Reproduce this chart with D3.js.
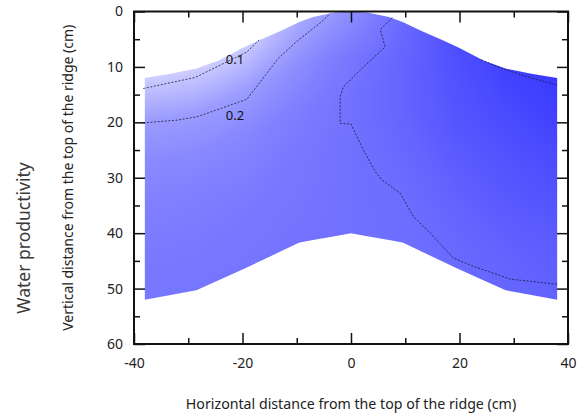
<!DOCTYPE html>
<html lang="en">
<head>
<meta charset="UTF-8"/>
<title>Water productivity</title>
<script src="https://d3js.org/d3.v7.min.js"></script>
<style>
    body { margin: 0; background: #fff; }
    text { font-family: "Noto Sans", sans-serif; }
</style>
</head>
<body>
<svg id="chart" width="582" height="418"></svg>
<script>
    // ridge outline: horizontal position (cm) and depth below top of ridge (cm)
    const surfaceX = [-38, -33, -28.5, -24.5, -20, -16.5, -13, -10, -7, -3, 0, 3, 7, 10, 13, 16.5, 20, 24.5, 28.5, 33, 38];
    const surfaceDepth = [12, 11.2, 10.3, 8.9, 6.6, 5.0, 3.5, 2.1, 1.0, 0.2, 0, 0.2, 1.0, 2.1, 3.5, 5.0, 6.6, 8.9, 10.3, 11.2, 12];
    const baseX = [-38, -28.5, -19, -9.5, 0, 9.5, 19, 28.5, 38];
    const baseDepth = [52, 50.3, 46.1, 41.7, 40, 41.7, 46.1, 50.3, 52];

    // water productivity read off the shading: one column per gridX,
    // rows go from the surface (0) to the base (1) of the ridge
    const gridX = [-38, -28, -19, -9.5, 0, 9.5, 19, 28, 38];
    const gridFrac = [0, 0.2, 0.4, 0.6, 0.8, 1];
    const productivity = [
        [0.08, 0.2, 0.245, 0.265, 0.28, 0.285],
        [0.08, 0.2, 0.245, 0.27, 0.28, 0.29],
        [0.09, 0.2, 0.25, 0.27, 0.285, 0.29],
        [0.17, 0.235, 0.27, 0.285, 0.29, 0.295],
        [0.23, 0.285, 0.3, 0.3, 0.3, 0.3],
        [0.32, 0.33, 0.33, 0.32, 0.31, 0.305],
        [0.38, 0.37, 0.36, 0.34, 0.325, 0.315],
        [0.41, 0.39, 0.37, 0.355, 0.335, 0.325],
        [0.43, 0.41, 0.385, 0.365, 0.345, 0.335]
    ];

    // contour lines [x, depth]
    const contour01 = [[-38.3, 13.9], [-28.7, 11.9], [-19.2, 7.3], [-16.8, 5.0]];
    const contour02 = [[-38.3, 20.1], [-32, 19.6], [-28.4, 19.0], [-19.2, 15.85], [-13.4, 8.45], [-10, 5.4], [-5.4, 1.84], [-3.8, 0.33]];
    const contour03 = [[7.6, 1.1], [5.4, 3.3], [6.3, 6.4], [2.3, 10], [-1.4, 13.6], [-2, 15.4], [-2, 20.2], [0, 20.3],
        [2.3, 25], [4.5, 28.9], [5.7, 30.4], [9.1, 32.8], [11.5, 37], [14.6, 40], [18.9, 44.5], [22.6, 46], [29.4, 48.3], [38, 49.2]];
    const contour04 = [[24, 8.7], [28.1, 10.4], [33, 11.9], [38, 13.3]];
    const contours = [contour01, contour02, contour03, contour04];

    const labelText = ["0.1", "0.2"];
    const labelX = [-21.4, -21.4];
    const labelDepth = [8.6, 18.7];

    const xTicks = [-40, -20, 0, 20, 40];
    const xMinor = [-30, -10, 10, 30];
    const yTicks = [0, 10, 20, 30, 40, 50, 60];
    const yMinor = [5, 15, 25, 35, 45, 55];

    const margin = {top: 11.5, right: 14, bottom: 74, left: 134},
        width = 582 - margin.left - margin.right,
        height = 418 - margin.top - margin.bottom;

    const svg = d3.select("#chart");
    const g = svg.append("g").attr("transform", `translate(${margin.left}, ${margin.top})`);

    const x = d3.scaleLinear().domain([-40, 40]).range([0, width]);
    const y = d3.scaleLinear().domain([0, 60]).range([0, height]);
    const color = d3.scaleLinear().domain([0, 0.5]).range(["#f0f0ff", "#1c1cff"]).clamp(true);

    const surface = d3.scaleLinear().domain(surfaceX).range(surfaceDepth).clamp(true);
    const base = d3.scaleLinear().domain(baseX).range(baseDepth).clamp(true);
    const rowScales = gridFrac.map((f, j) =>
        d3.scaleLinear().domain(gridX).range(productivity.map(col => col[j])).clamp(true));

    // shade the field on a canvas, then clip it to the ridge
    const canvas = document.createElement("canvas");
    canvas.width = Math.ceil(width);
    canvas.height = Math.ceil(height);
    const ctx = canvas.getContext("2d");
    const img = ctx.createImageData(canvas.width, canvas.height);
    for (let i = 0; i < canvas.width; i++) {
        const xv = x.invert(i + 0.5);
        const s = surface(xv), b = base(xv);
        const colScale = d3.scaleLinear().domain(gridFrac).range(rowScales.map(r => r(xv))).clamp(true);
        for (let k = 0; k < canvas.height; k++) {
            const f = (y.invert(k + 0.5) - s) / (b - s);
            const c = d3.rgb(color(colScale(f)));
            const p = (k * canvas.width + i) * 4;
            img.data[p] = c.r;
            img.data[p + 1] = c.g;
            img.data[p + 2] = c.b;
            img.data[p + 3] = 255;
        }
    }
    ctx.putImageData(img, 0, 0);

    const outlineX = Array.from(new Set([...surfaceX, ...baseX])).sort((a, b) => a - b);
    const ridge = d3.area()
        .x(d => x(d))
        .y0(d => y(base(d)))
        .y1(d => y(surface(d)));

    svg.append("defs").append("clipPath").attr("id", "ridgeClip")
        .append("path").attr("d", ridge(outlineX));

    g.append("image")
        .attr("href", canvas.toDataURL())
        .attr("width", canvas.width)
        .attr("height", canvas.height)
        .attr("preserveAspectRatio", "none")
        .attr("clip-path", "url(#ridgeClip)");

    // contour lines
    const line = d3.line().x(d => x(d[0])).y(d => y(d[1]));
    g.append("g")
        .selectAll("path")
        .data(contours)
        .join("path")
        .attr("d", line)
        .attr("fill", "none")
        .attr("stroke", "#1a1a3a")
        .attr("stroke-width", 0.8)
        .attr("stroke-dasharray", "2,1.6");

    g.append("g")
        .selectAll("text")
        .data(labelText)
        .join("text")
        .attr("x", (d, i) => x(labelX[i]))
        .attr("y", (d, i) => y(labelDepth[i]))
        .attr("dy", "0.35em")
        .attr("text-anchor", "middle")
        .style("font-size", "13px")
        .style("fill", "#111")
        .text(d => d);

    // axes, ticks pointing inward on all four sides
    function styleAxis(sel) {
        sel.select(".domain").remove();
        sel.selectAll("line").attr("stroke", "#111").attr("stroke-width", 1.5);
        sel.attr("font-family", "'Noto Sans', sans-serif").attr("font-size", 14);
        sel.selectAll("text").attr("fill", "#222");
    }
    const fmt = d => String(d);
    const none = () => "";

    g.append("g").attr("transform", `translate(0, ${height})`)
        .call(d3.axisBottom(x).tickValues(xTicks).tickSize(-11).tickPadding(14).tickFormat(fmt)).call(styleAxis);
    g.append("g").attr("transform", `translate(0, ${height})`)
        .call(d3.axisBottom(x).tickValues(xMinor).tickSize(-6).tickFormat(none)).call(styleAxis);
    g.append("g")
        .call(d3.axisTop(x).tickValues(xTicks).tickSize(-11).tickFormat(none)).call(styleAxis);
    g.append("g")
        .call(d3.axisTop(x).tickValues(xMinor).tickSize(-6).tickFormat(none)).call(styleAxis);

    g.append("g")
        .call(d3.axisLeft(y).tickValues(yTicks).tickSize(-11).tickPadding(11).tickFormat(fmt)).call(styleAxis);
    g.append("g")
        .call(d3.axisLeft(y).tickValues(yMinor).tickSize(-6).tickFormat(none)).call(styleAxis);
    g.append("g").attr("transform", `translate(${width}, 0)`)
        .call(d3.axisRight(y).tickValues(yTicks).tickSize(-11).tickFormat(none)).call(styleAxis);
    g.append("g").attr("transform", `translate(${width}, 0)`)
        .call(d3.axisRight(y).tickValues(yMinor).tickSize(-6).tickFormat(none)).call(styleAxis);

    g.append("rect")
        .attr("width", width)
        .attr("height", height)
        .attr("fill", "none")
        .attr("stroke", "#111")
        .attr("stroke-width", 2);

    // titles
    svg.append("text")
        .attr("x", margin.left + width / 2)
        .attr("y", 409)
        .attr("text-anchor", "middle")
        .style("font-size", "14.2px")
        .style("fill", "#222")
        .text("Horizontal distance from the top of the ridge (cm)");

    svg.append("text")
        .attr("transform", `translate(73, ${margin.top + height / 2}) rotate(-90)`)
        .attr("text-anchor", "middle")
        .style("font-size", "14px")
        .style("fill", "#222")
        .text("Vertical distance from the top of the ridge (cm)");

    svg.append("text")
        .attr("transform", "translate(30, 238) rotate(-90)")
        .attr("text-anchor", "middle")
        .style("font-size", "17.5px")
        .style("fill", "#3a3a3a")
        .text("Water productivity");
</script>
</body>
</html>
